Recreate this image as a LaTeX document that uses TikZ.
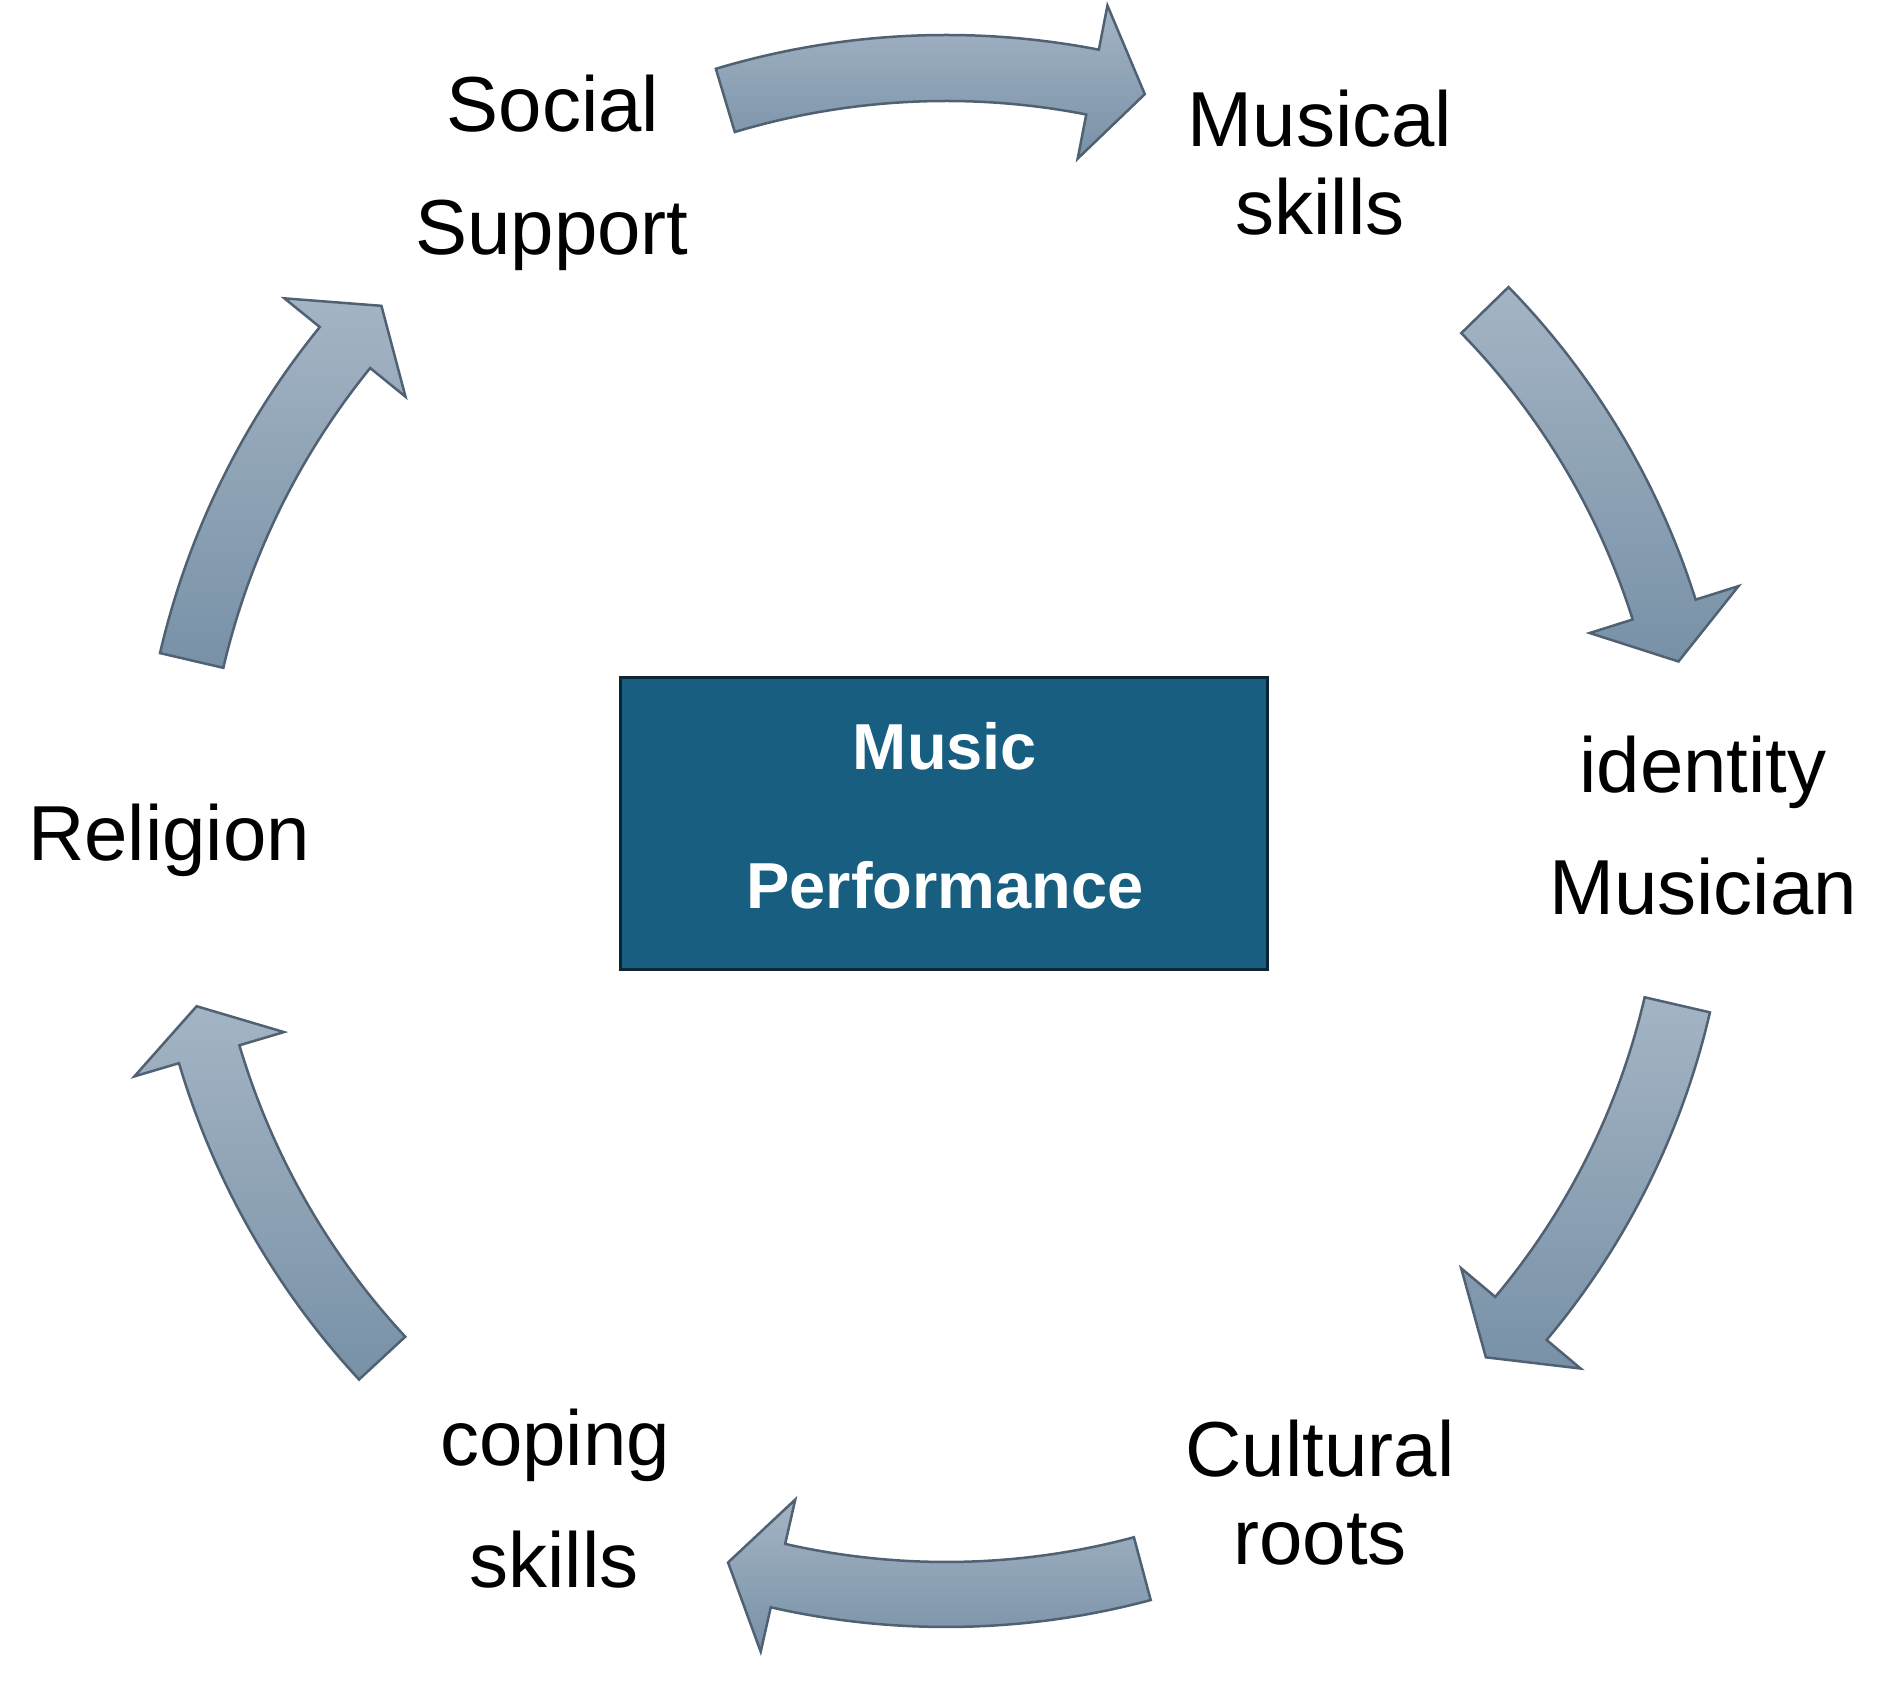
\documentclass[tikz,border=0pt]{standalone}
\usepackage{fontspec}
\setmainfont{Liberation Sans}
\usetikzlibrary{calc}
\definecolor{boxfill}{HTML}{175E80}
\definecolor{boxline}{HTML}{0E2536}
\definecolor{arrtop}{HTML}{A4B4C4}
\definecolor{arrbot}{HTML}{7891A7}
\definecolor{arrline}{HTML}{4F6172}
\tikzset{
  arrowshape/.style={draw=arrline, line width=2.5pt, line join=miter, shading=axis, top color=arrtop, bottom color=arrbot},
  lbl/.style={anchor=base, inner sep=0pt, font=\fontsize{78}{92}\selectfont, text=black},
  boxlbl/.style={anchor=base, inner sep=0pt, font=\fontsize{65}{78}\selectfont\bfseries, text=white},
  centerbox/.style={draw=boxline, line width=3pt, fill=boxfill, inner sep=0pt}
}
\newcommand\cyclearrow[5]{%
  \pgfmathsetmacro\rmid{(#4+#5)/2}%
  \pgfmathsetmacro\rhi{\rmid+78}%
  \pgfmathsetmacro\rlo{\rmid-78}%
  \path[arrowshape] (#1:#5pt) arc[start angle=#1, end angle=#2, radius=#5pt]
    -- (#2:\rhi pt) -- (#3:\rmid pt) -- (#2:\rlo pt) -- (#2:#4pt)
    arc[start angle=#2, end angle=#1, radius=#4pt] -- cycle;%
}
\begin{document}
\begin{tikzpicture}[x=1pt,y=1pt]
\useasboundingbox (0,0) rectangle (1886,1696);
\coordinate (C) at (946,860);
% arrows
\begin{scope}[shift={(C)}]
  \cyclearrow{106.7}{79}{75}{735}{801}
  \cyclearrow{44.3}{17.5}{13.4}{720}{786}
  \cyclearrow{-13}{-40}{-44}{717}{784}
  \cyclearrow{-75}{-102.8}{-106.7}{726}{791}
  \cyclearrow{-137.2}{-163.5}{-167.2}{737}{800}
  \cyclearrow{166.9}{140.9}{136.8}{742}{807}
\end{scope}
% centre box
\node[centerbox, minimum width=647pt, minimum height=292pt] (box) at (943.5,872) {};
\node[boxlbl] (music) at (945,926) {Music};
\node[boxlbl] (perf) at (945,787) {Performance};
% labels
\node[lbl] (social) at (553,1564) {Social};
\node[lbl] (support) at (552,1441) {Support};
\node[lbl] (musical) at (1320,1549) {Musical};
\node[lbl] (mskills) at (1320,1461) {skills};
\node[lbl] (identity) at (1703,903) {identity};
\node[lbl] (musician) at (1703,781) {Musician};
\node[lbl] (religion) at (169,835) {Religion};
\node[lbl] (coping) at (555,230) {coping};
\node[lbl] (cskills) at (554,108) {skills};
\node[lbl] (cultural) at (1320,219) {Cultural};
\node[lbl] (roots) at (1320,131) {roots};
\end{tikzpicture}
\end{document}
